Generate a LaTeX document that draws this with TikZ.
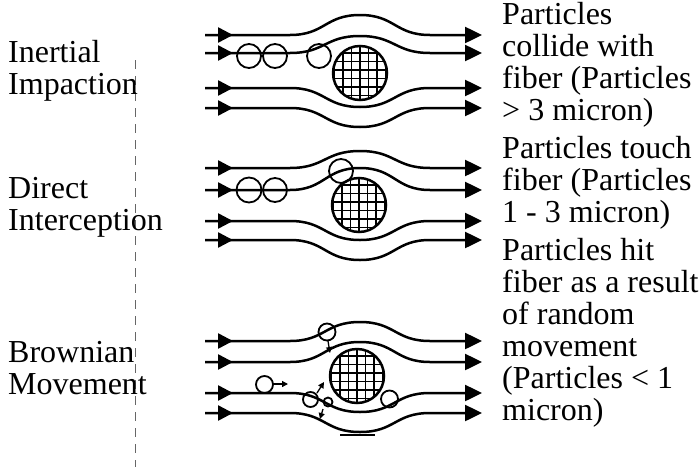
\documentclass[tikz,border=0pt]{standalone}
\usepackage{fontspec}
\setmainfont{Liberation Serif}
\usetikzlibrary{arrows.meta,decorations.markings}

% one streamline: start level #1, bump height #2 (negative = upwards)
\newcommand{\flowline}[2]{%
  \draw[flow] (205,#1) -- (290,#1)
    .. controls (325,#1) and (325,{#1+#2}) .. (360,{#1+#2})
    .. controls (395,{#1+#2}) and (395,#1) .. (430,#1) -- (482,#1);
}
% cross-hatched fibre cross section
\newcommand{\fibre}[2]{%
  \fill[white] (#1,#2) circle[radius=27];
  \begin{scope}
    \clip (#1,#2) circle[radius=27];
    \foreach \k in {-3,...,3}{
      \draw[gridline] ({#1+8.5*\k},{#2-28}) -- ({#1+8.5*\k},{#2+28});
      \draw[gridline] ({#1-28},{#2+8.5*\k-3}) -- ({#1+28},{#2+8.5*\k-3});
    }
  \end{scope}
  \draw[fibreedge] (#1,#2) circle[radius=27];
}

\begin{document}
\begin{tikzpicture}[x=1pt,y=-1pt,
  flow/.style={line width=2.5pt,
    -{Triangle[length=17pt,width=16pt]},
    postaction={decorate},
    decoration={markings,
      mark=at position 28pt with {\arrow{Triangle[length=15pt,width=15pt]}}}},
  gridline/.style={line width=1.4pt},
  fibreedge/.style={line width=2.5pt},
  particle/.style={line width=1.8pt},
  motion/.style={line width=1.3pt, -{Triangle[length=6pt,width=6pt]}},
  guide/.style={line width=0.8pt, gray!80!black, dash pattern=on 9pt off 7pt},
  txt/.style={font=\fontsize{32}{32}\selectfont, align=left, inner sep=0pt, anchor=base west}]

\useasboundingbox (0,0) rectangle (700,471);

% dividing guide line
\coordinate (gtop) at (135,60);
\coordinate (gbot) at (135,467);
\draw[guide] (gtop) -- (gbot);

% ---------- inertial impaction ----------
\fibre{360}{73}
\flowline{35}{-20}
\flowline{53}{-17}
\flowline{88}{19}
\flowline{108}{19}
\draw[particle] (249,56) circle[radius=12];
\draw[particle] (275,56) circle[radius=12];
\draw[particle] (319,56) circle[radius=12];

% ---------- direct interception ----------
\fibre{359}{205}
\flowline{168}{-17}
\flowline{190}{-22}
\flowline{221}{19}
\flowline{240}{20}
\draw[particle] (249,190) circle[radius=12.5];
\draw[particle] (275,190) circle[radius=12];
\draw[particle] (341,171) circle[radius=12];

% ---------- Brownian movement ----------
\fibre{357}{376}
\flowline{341}{-19}
\flowline{362}{-20}
\flowline{393}{19}
\flowline{413}{19}
\draw[line width=2.2pt] (340,435) -- (375,435);
\draw[particle] (327,332) circle[radius=8.5];
\draw[motion] (328,341) -- (330,353);
\draw[particle] (264.5,384.5) circle[radius=8.5];
\draw[motion] (273,384) -- (288,384);
\draw[particle] (310.5,399.5) circle[radius=7.5];
\draw[particle] (328,402) circle[radius=4.5];
\draw[motion] (317,393) -- (324,382);
\draw[motion] (323,409) -- (320,419);
\draw[particle] (389.5,399) circle[radius=8.5];

% ---------- labels (anchored on the last baseline) ----------
\node[txt] (lInertial) at (8,94) {Inertial\\Impaction};
\node[txt] (lDirect) at (8,230) {Direct\\Interception};
\node[txt] (lBrown) at (8,394) {Brownian\\Movement};

\node[txt] (rInertial) at (502,120) {Particles\\collide with\\fiber (Particles\\> 3 micron)};
\node[txt] (rDirect) at (502,222) {Particles touch\\fiber (Particles\\1 - 3 micron)};
\node[txt] (rBrown) at (502,420) {Particles hit\\fiber as a result\\of random\\movement\\(Particles < 1\\micron)};
\end{tikzpicture}
\end{document}
